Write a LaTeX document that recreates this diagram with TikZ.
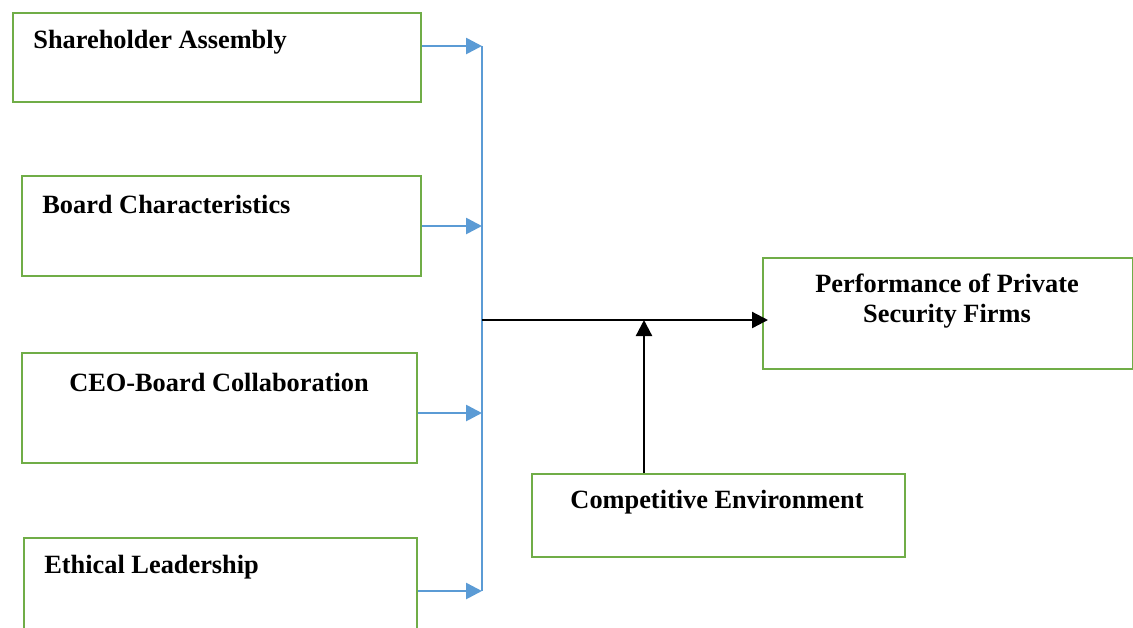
\documentclass[tikz,border=0pt]{standalone}
\usepackage{fontspec}
\setmainfont{Liberation Serif}
\usepackage{xcolor}
\usetikzlibrary{arrows.meta,positioning,calc}
\definecolor{boxgreen}{HTML}{70AD47}
\definecolor{linkblue}{HTML}{5B9BD5}

\begin{document}
\begin{tikzpicture}[x=0.02cm, y=-0.02cm,
    box/.style={draw=boxgreen, line width=1.4pt, anchor=north west,
                inner sep=0pt},
    lbl/.style={font=\fontsize{15}{17.5}\selectfont\bfseries, inner sep=0pt,
                align=center},
    barr/.style={-{Triangle[length=0.32cm, width=0.32cm]}, draw=linkblue,
                 line width=1.5pt},
    karr/.style={-{Triangle[length=0.32cm, width=0.32cm]}, line width=1.3pt},
  ]
    \useasboundingbox (0,0) rectangle (1133,627);

    % input boxes
    \node[box, minimum width=408*0.02cm, minimum height=89*0.02cm] (sa) at (12,12) {};
    \node[box, minimum width=399*0.02cm, minimum height=100*0.02cm] (bc) at (21,175) {};
    \node[box, minimum width=395*0.02cm, minimum height=110*0.02cm] (cb) at (21,352) {};
    \node[box, minimum width=393*0.02cm, minimum height=110*0.02cm] (el) at (23,537) {};

    \node[lbl, anchor=west] (saT) at (33,42) {Shareholder Assembly};
    \node[lbl, anchor=west] (bcT) at (42,204) {Board Characteristics};
    \node[lbl] (cbT) at (219,382) {CEO-Board Collaboration};
    \node[lbl, anchor=west] (elT) at (44,567) {Ethical Leadership};

    % outcome and moderator
    \node[box, minimum width=370*0.02cm, minimum height=111*0.02cm] (pf) at (762,257) {};
    \node[lbl] (pfT) at (947,301) {Performance of Private\\Security Firms};
    \node[box, minimum width=373*0.02cm, minimum height=83*0.02cm] (ce) at (531,473) {};
    \node[lbl] (ceT) at (717,502) {Competitive Environment};

    % blue collector line
    \coordinate (top) at (482,46);
    \coordinate (bot) at (482,591);
    \coordinate (mid) at (482,320);
    \coordinate (join) at (644,320);
    \draw[linkblue, line width=0.7pt] (top) -- (bot);

    \draw[barr] (sa.north east |- top) -- (top);
    \draw[barr] ($(bc.north east)+(0,51)$) -- (482,226);
    \draw[barr] ($(cb.north east)+(0,61)$) -- (482,413);
    \draw[barr] (el.north east |- bot) -- (bot);

    \draw[karr] (mid) -- ($(pf.west |- mid)+(6,0)$);
    \draw[karr] (ce.north -| join) -- (join);
\end{tikzpicture}
\end{document}
